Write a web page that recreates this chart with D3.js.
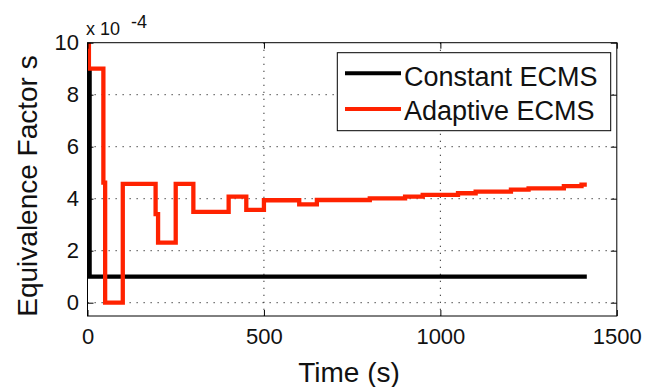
<!DOCTYPE html>
<html>
<head>
<meta charset="utf-8">
<script src="https://cdn.jsdelivr.net/npm/d3@7"></script>
<style>
  html, body { margin: 0; padding: 0; background: #fff; }
  svg { display: block; }
  text { font-family: "Liberation Sans", Arial, Helvetica, sans-serif; fill: #111; }
</style>
</head>
<body>
<svg id="chart" width="657" height="387"></svg>
<script>
// ---- data (values in units of 1e-4) ----
const seriesNames = ["Constant ECMS", "Adaptive ECMS"];
const constantTime  = [0, 6, 1415];
const constantValue = [8.9, 1, 1];
const adaptiveTime  = [0, 4, 45, 50, 100, 193, 200, 250, 300, 400, 450, 500, 600, 650, 800, 900, 950, 1050, 1100, 1200, 1250, 1350, 1400, 1415];
const adaptiveValue = [10, 9, 4.62, 0, 4.57, 3.41, 2.31, 4.57, 3.49, 4.08, 3.57, 3.94, 3.78, 3.95, 4.01, 4.08, 4.15, 4.21, 4.27, 4.35, 4.4, 4.48, 4.54, 4.54];
const xTicks = [0, 500, 1000, 1500];
const yTicks = [0, 2, 4, 6, 8, 10];
const xGrid = [500, 1000];
const yGrid = [0, 2, 4, 6, 8];
const xLabel = "Time (s)";
const yLabel = "Equivalence Factor s";
const exponentBase = "x 10";
const exponentPower = "-4";

// ---- layout ----
const pL = 87.5, pR = 616.8, pT = 42.7, pB = 316;
const svg = d3.select("#chart");

const x = d3.scaleLinear().domain([0, 1500]).range([pL, pR]);
const y = d3.scaleLinear().domain([0, 10]).range([302.7, pT]);

// clip
svg.append("defs").append("clipPath").attr("id", "plotclip")
  .append("rect").attr("x", pL).attr("y", pT).attr("width", pR - pL).attr("height", pB - pT);

// grid
const grid = svg.append("g").attr("stroke", "#333").attr("stroke-width", 1).attr("stroke-dasharray", "1.3,5.7");
grid.selectAll("line.v").data(xGrid).join("line").attr("class", "v")
  .attr("x1", d => x(d)).attr("x2", d => x(d)).attr("y1", pT).attr("y2", pB);
grid.selectAll("line.h").data(yGrid).join("line").attr("class", "h")
  .attr("x1", pL).attr("x2", pR).attr("y1", d => y(d)).attr("y2", d => y(d));

// lines
const line = d3.line().x(d => x(d[0])).y(d => y(d[1])).curve(d3.curveStepAfter);
const constantData = constantTime.map((t, i) => [t, constantValue[i]]);
const adaptiveData = adaptiveTime.map((t, i) => [t, adaptiveValue[i]]);
const plot = svg.append("g").attr("clip-path", "url(#plotclip)");
plot.append("path").datum(constantData).attr("d", line)
  .attr("fill", "none").attr("stroke", "#000").attr("stroke-width", 4.3);
plot.append("path").datum(adaptiveData).attr("d", line)
  .attr("fill", "none").attr("stroke", "#ff2200").attr("stroke-width", 4.3);

// axes
const fontTick = 22;
const fmt = d3.format("d");
const xAxisB = d3.axisBottom(x).tickValues(xTicks).tickFormat(fmt).tickSizeInner(-6).tickSizeOuter(0).tickPadding(12);
const gxB = svg.append("g").attr("transform", `translate(0,${pB})`).call(xAxisB);
const xAxisT = d3.axisTop(x).tickValues(xTicks).tickSizeInner(-6).tickSizeOuter(0).tickFormat("");
const gxT = svg.append("g").attr("transform", `translate(0,${pT})`).call(xAxisT);
const yAxisL = d3.axisLeft(y).tickValues(yTicks).tickFormat(fmt).tickSizeInner(-6).tickSizeOuter(0).tickPadding(8.5);
const gyL = svg.append("g").attr("transform", `translate(${pL},0)`).call(yAxisL);
const yAxisR = d3.axisRight(y).tickValues(yTicks).tickSizeInner(-6).tickSizeOuter(0).tickFormat("");
const gyR = svg.append("g").attr("transform", `translate(${pR},0)`).call(yAxisR);
[gxB, gxT, gyL, gyR].forEach(g => {
  g.select(".domain").remove();
  g.selectAll("line").attr("stroke", "#000").attr("stroke-width", 1);
  g.selectAll("text").attr("font-size", fontTick).attr("fill", "#111")
    .style("font-family", '"Liberation Sans", Arial, sans-serif');
});

// box
svg.append("rect").attr("x", pL).attr("y", pT).attr("width", pR - pL).attr("height", pB - pT)
  .attr("fill", "none").attr("stroke", "#000").attr("stroke-width", 1);

// exponent label
svg.append("text").attr("x", 86).attr("y", 35).attr("font-size", 18).text(exponentBase);
svg.append("text").attr("x", 131).attr("y", 28).attr("font-size", 18).text(exponentPower);

// axis labels
svg.append("text").attr("x", 349).attr("y", 381.5).attr("text-anchor", "middle")
  .attr("font-size", 28).text(xLabel);
svg.append("text").attr("transform", "translate(36.5,186) rotate(-90)").attr("text-anchor", "middle")
  .attr("font-size", 28).text(yLabel);

// legend
const lg = svg.append("g");
lg.append("rect").attr("x", 337.3).attr("y", 52.7).attr("width", 273.4).attr("height", 78)
  .attr("fill", "#fff").attr("stroke", "#000").attr("stroke-width", 1);
const legendColors = ["#000", "#ff2200"];
const legendLineY = [73.3, 109];
const legendTextY = [86, 120];
seriesNames.forEach((name, i) => {
  lg.append("line").attr("x1", 345).attr("x2", 401).attr("y1", legendLineY[i]).attr("y2", legendLineY[i])
    .attr("stroke", legendColors[i]).attr("stroke-width", 4);
  lg.append("text").attr("x", 404).attr("y", legendTextY[i]).attr("font-size", 27).text(name);
});
</script>
</body>
</html>
